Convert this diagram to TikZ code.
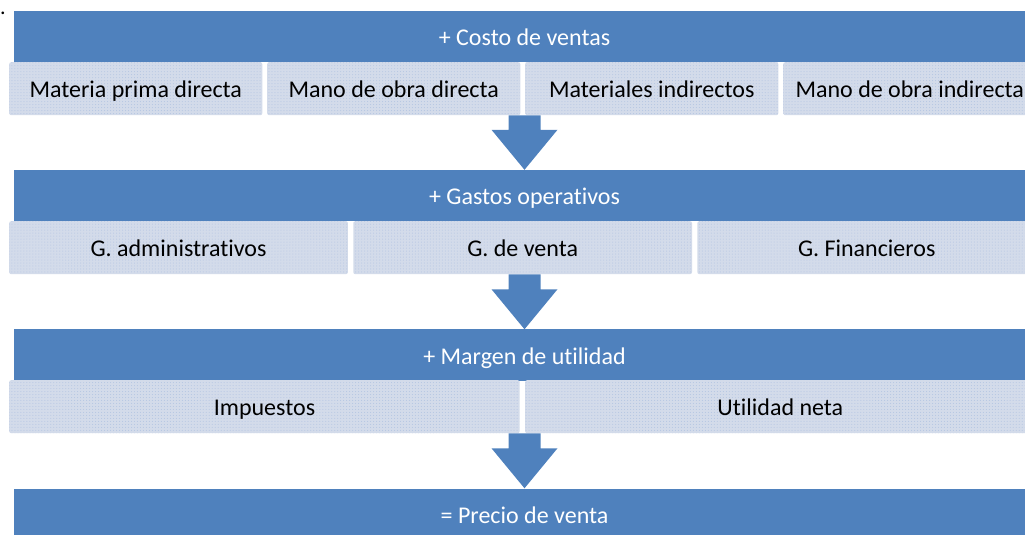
\documentclass[tikz,border=0pt]{standalone}
\usepackage{fontspec}
\setmainfont{Carlito}[Ligatures={NoCommon}]
\usetikzlibrary{positioning,calc,patterns}

\definecolor{barblue}{HTML}{4F81BD}
\definecolor{subfill}{HTML}{D3DBEA}
\definecolor{subdot}{HTML}{B3C4E2}

\tikzset{
    bar/.style={fill=barblue, text=white, minimum width=1021bp, minimum height=51bp,
        inner sep=0pt, text height=18bp, text depth=0bp,
        font=\fontsize{24bp}{28bp}\selectfont},
    subbox/.style={preaction={fill=subfill}, pattern=dots, pattern color=subdot,
        rounded corners=2bp, minimum height=53bp, inner sep=0pt,
        text height=17bp, text depth=0bp,
        font=\fontsize{24bp}{28bp}\selectfont},
}

% block arrow from the bottom of a row down to the next bar
\newcommand{\blockarrow}[2]{%
    \fill[barblue] let \p1=(#1), \p2=(#2) in
        (\x1-16bp,\y1) -- (\x1+16bp,\y1) -- (\x1+16bp,\y2+40bp) -- (\x1+33bp,\y2+40bp)
        -- (\x2,\y2) -- (\x1-33bp,\y2+40bp) -- (\x1-16bp,\y2+40bp) -- cycle;}

\begin{document}
\begin{tikzpicture}[x=1bp,y=-1bp]
    \useasboundingbox (0,0) rectangle (1025,535);
    \node[anchor=base west, inner sep=0pt, font=\fontsize{22bp}{26bp}\selectfont] (punto) at (0,15) {.};

    % costo de ventas
    \node[bar] (costo) at (524.5,36.5) {+ Costo de ventas};
    \node[subbox, minimum width=253.1bp, anchor=north west] (mpd) at (9,62) {Materia prima directa};
    \node[subbox, minimum width=253.1bp, right=4.5bp of mpd] (mod) {Mano de obra directa};
    \node[subbox, minimum width=253.1bp, right=4.5bp of mod] (mi) {Materiales indirectos};
    \node[subbox, minimum width=253.1bp, right=4.5bp of mi] (moi) {Mano de obra indirecta};

    % gastos operativos
    \node[bar] (gastos) at (524.5,195.5) {+ Gastos operativos};
    \node[subbox, minimum width=338.7bp, anchor=north west] (gadm) at (9,221) {G. administrativos};
    \node[subbox, minimum width=338.7bp, right=5bp of gadm] (gven) {G. de venta};
    \node[subbox, minimum width=338.7bp, right=5bp of gven] (gfin) {G. Financieros};

    % margen de utilidad
    \node[bar] (margen) at (524.5,355) {+ Margen de utilidad};
    \node[subbox, minimum width=510.5bp, anchor=north west] (imp) at (9,380) {Impuestos};
    \node[subbox, minimum width=510.5bp, right=5bp of imp] (util) {Utilidad neta};

    % precio de venta
    \node[bar] (precio) at (524.5,514) {= Precio de venta};

    \blockarrow{costo |- mod.south}{gastos.north}
    \blockarrow{costo |- gven.south}{margen.north}
    \blockarrow{costo |- imp.south}{precio.north}
\end{tikzpicture}
\end{document}
